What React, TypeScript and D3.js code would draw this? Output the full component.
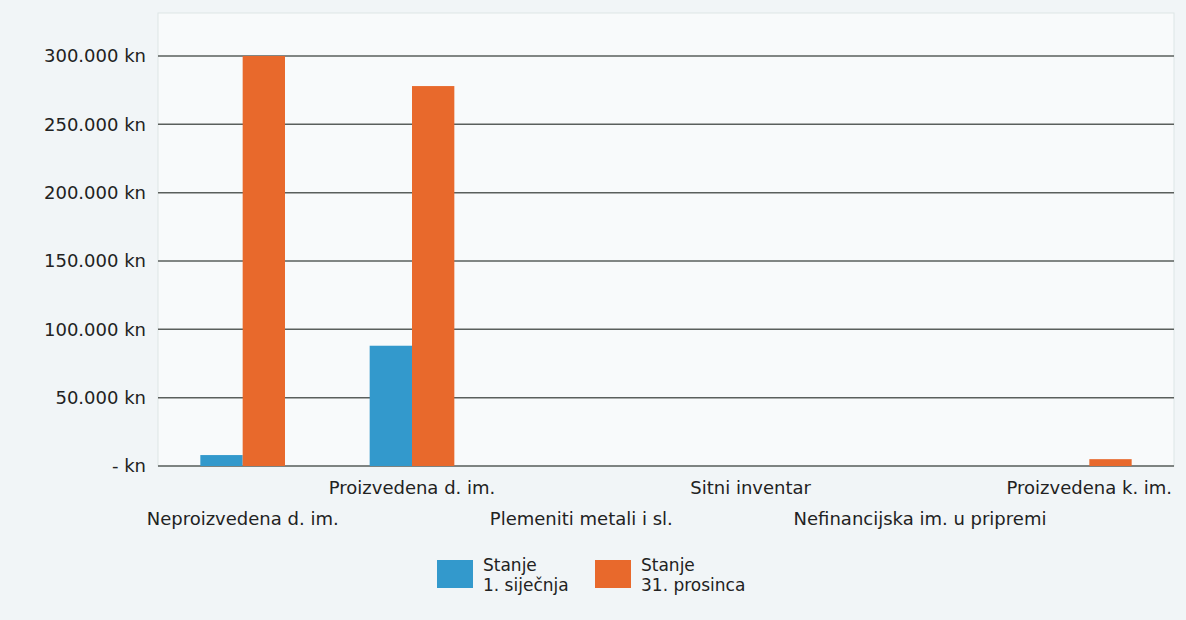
import React from 'react';
import * as d3 from 'd3';

const categories = [
  'Neproizvedena d. im.',
  'Proizvedena d. im.',
  'Plemeniti metali i sl.',
  'Sitni inventar',
  'Nefinancijska im. u pripremi',
  'Proizvedena k. im.',
];
const seriesNames = ['Stanje 1. siječnja', 'Stanje 31. prosinca'];
const stanje1Sijecnja = [8000, 88000, 0, 0, 0, 0];
const stanje31Prosinca = [300000, 278000, 0, 0, 0, 5000];
const yTicks = [0, 50000, 100000, 150000, 200000, 250000, 300000];

const colors = ['#3399cc', '#e8692c'];
const font = '"DejaVu Sans", Verdana, sans-serif';

const W = 1186;
const H = 620;
const margin = { left: 158, right: 12, top: 13, bottom: 154 };

const fmt = (v: number) =>
  v === 0 ? '- kn' : `${d3.format(',')(v).replace(/,/g, '.')} kn`;

export default function App() {
  const x = d3
    .scaleBand<string>()
    .domain(categories)
    .range([margin.left, W - margin.right]);
  const y = d3
    .scaleLinear()
    .domain([0, 300000])
    .range([466, 56]);
  const inner = d3
    .scaleBand<number>()
    .domain([0, 1])
    .range([0, x.bandwidth()])
    .paddingOuter(1)
    .paddingInner(0);

  const series = [stanje1Sijecnja, stanje31Prosinca];

  return (
    <svg
      width={W}
      height={H}
      style={{ position: 'absolute', left: 0, top: 0, fontFamily: font }}
    >
      <rect width={W} height={H} fill="#f1f5f7" />
      <rect
        x={margin.left}
        y={margin.top}
        width={W - margin.left - margin.right}
        height={466 - margin.top}
        fill="#f8fafb"
        stroke="#dde6e6"
      />
      {yTicks.map((t) => (
        <g key={t}>
          <line
            x1={margin.left}
            x2={W - margin.right}
            y1={y(t)}
            y2={y(t)}
            stroke="#5a5f5c"
            strokeWidth={1.5}
          />
          <text
            x={146}
            y={y(t)}
            dy="0.36em"
            textAnchor="end"
            fontSize={18}
            fill="#222"
          >
            {fmt(t)}
          </text>
        </g>
      ))}
      {categories.map((c, i) => (
        <g key={c}>
          {series.map((s, si) =>
            s[i] > 0 ? (
              <rect
                key={si}
                x={(x(c) as number) + (inner(si) as number)}
                y={y(s[i])}
                width={inner.bandwidth()}
                height={y(0) - y(s[i])}
                fill={colors[si]}
              />
            ) : null
          )}
          <text
            x={(x(c) as number) + x.bandwidth() / 2}
            y={i % 2 === 0 ? 525 : 494}
            textAnchor="middle"
            fontSize={18}
            fill="#222"
          >
            {c}
          </text>
        </g>
      ))}
      {seriesNames.map((n, i) => {
        const lx = 437 + i * 158;
        const words = n.split(' ');
        return (
          <g key={n}>
            <rect x={lx} y={560} width={36} height={28} fill={colors[i]} />
            <text x={lx + 46} y={571} fontSize={17} fill="#222">
              {words[0]}
            </text>
            <text x={lx + 46} y={591} fontSize={17} fill="#222">
              {words.slice(1).join(' ')}
            </text>
          </g>
        );
      })}
    </svg>
  );
}
